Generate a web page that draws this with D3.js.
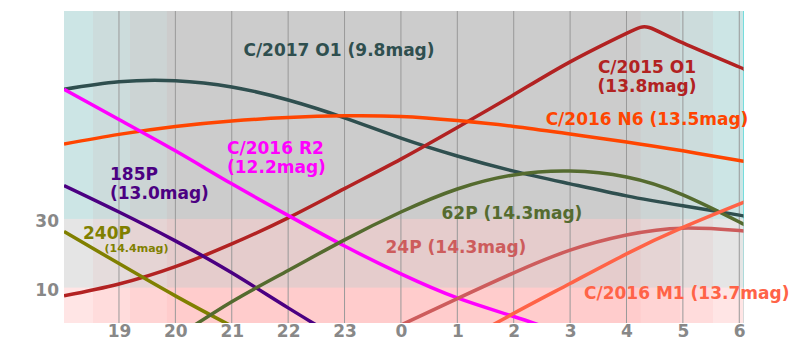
<!DOCTYPE html>
<html>
<head>
<meta charset="utf-8">
<script src="https://cdn.jsdelivr.net/npm/d3@7"></script>
<style>
  body { margin: 0; background: #fff; }
  svg text { font-family: "DejaVu Sans", sans-serif; font-weight: bold; }
</style>
</head>
<body>
<script>

  // night of observation, hours after midnight written as 24+
  const nightStart = 18.025, nightEnd = 30.075;
  const altMin = -0.3, altMax = 90.5;
  const hourTicks = [19, 20, 21, 22, 23, 24, 25, 26, 27, 28, 29, 30];
  const altTicks = [10, 30];

  // twilight: civil, nautical, astronomical
  const duskEnds = [18.55, 19.2, 19.85];
  const dawnStarts = [29.53, 28.95, 28.25];
  const altBands = [30, 10];

  // [hour, altitude in degrees]
  const c2017o1 = [[18.025, 67.7], [19, 69.9], [20, 70.2], [21, 68.4], [22, 64.6], [23, 59.4], [24, 53.5],
                   [25, 48.3], [26, 43.9], [27, 40.2], [28, 36.7], [29, 33.8], [30, 31.1], [30.075, 30.8]];
  const c2015o1 = [[18.025, 7.6], [19, 11.05], [20, 16.1], [21, 22.7], [22, 30.3], [23, 38.8], [24, 47.4], [25, 56.6],
                   [26, 66.1], [27, 75.7], [28, 84.0], [28.4, 85.7], [29, 81.2], [30, 74.2], [30.075, 73.6]];
  const c2016n6 = [[18.025, 51.8], [19, 54.6], [20, 56.9], [21, 58.5], [22, 59.5], [23, 60.0], [24, 59.8],
                   [25, 58.6], [26, 56.9], [27, 54.7], [28, 52.4], [29, 49.8], [30, 47.0], [30.075, 46.8]];
  const c2016r2 = [[18.025, 67.7], [19, 58.9], [20, 49.8], [21, 40.2], [22, 31.0], [23, 22.1], [24, 14.0], [25, 7.0],
                   [26, 1.6], [27, -4.0]];
  const p185 = [[18.025, 39.7], [19, 32.0], [20, 23.6], [21, 14.3], [22, 4.1], [23, -5.8]];
  const p240 = [[18.025, 26.3], [19, 17.0], [20, 7.6], [21, -1.2], [22, -9.6]];
  const p62 = [[20, -4.6], [21, 5.9], [22, 15.0], [23, 23.9], [24, 32.0], [25, 38.7], [26, 42.8],
               [27, 43.9], [28, 42.2], [29, 37.0], [30, 29.1], [30.075, 28.5]];
  const p24 = [[23, -8.6], [24, -0.9], [25, 6.8], [26, 14.3], [27, 20.9], [28, 25.3], [29, 27.3],
               [30, 26.6], [30.075, 26.5]];
  const c2016m1 = [[25, -6.6], [26, 2.5], [27, 11.2], [28, 19.8], [29, 27.5], [30, 34.3], [30.075, 34.8]];

  const comets = [
    {name: "C/2017 O1", color: "#2f4f4f", pts: c2017o1},
    {name: "C/2015 O1", color: "#b22222", pts: c2015o1},
    {name: "C/2016 N6", color: "#ff4500", pts: c2016n6},
    {name: "C/2016 R2", color: "#ff00ff", pts: c2016r2},
    {name: "185P", color: "#4b0082", pts: p185},
    {name: "240P", color: "#808000", pts: p240},
    {name: "62P", color: "#556b2f", pts: p62},
    {name: "24P", color: "#cd5c5c", pts: p24},
    {name: "C/2016 M1", color: "#ff6347", pts: c2016m1}
  ];

  // label placement (pixels)
  const labels = [
    {lines: ["C/2017 O1 (9.8mag)"], color: "#2f4f4f", x: 339, y: 56, anchor: "middle"},
    {lines: ["C/2015 O1", "(13.8mag)"], color: "#b22222", x: 647, y: 73, anchor: "middle"},
    {lines: ["C/2016 N6 (13.5mag)"], color: "#ff4500", x: 647, y: 124.5, anchor: "middle"},
    {lines: ["C/2016 R2", "(12.2mag)"], color: "#ff00ff", x: 227, y: 154, anchor: "start"},
    {lines: ["185P", "(13.0mag)"], color: "#4b0082", x: 110, y: 179.5, anchor: "start"},
    {lines: ["62P (14.3mag)"], color: "#556b2f", x: 441.5, y: 218.5, anchor: "start"},
    {lines: ["24P (14.3mag)"], color: "#cd5c5c", x: 385.5, y: 253, anchor: "start"},
    {lines: ["C/2016 M1 (13.7mag)"], color: "#ff6347", x: 584, y: 299, anchor: "start"}
  ];

  const svg = d3.select("body").append("svg")
    .attr("width", 800)
    .attr("height", 353);

  const x = d3.scaleLinear().domain([nightStart, nightEnd]).range([64, 743.5]);
  const y = d3.scaleLinear().domain([altMin, altMax]).range([323, 11]);

  // background: sky above/below 30 and 10 degrees, twilight tints
  const bg = svg.append("g").style("isolation", "isolate");
  bg.append("rect")
    .attr("x", x(nightStart)).attr("y", y(altMax))
    .attr("width", x(nightEnd) - x(nightStart)).attr("height", y(altMin) - y(altMax))
    .attr("fill", "#cccccc");
  const bandFill = ["#e5cccc", "#ffcccc"];
  altBands.forEach((a, i) => {
    bg.append("rect")
      .attr("x", x(nightStart)).attr("y", y(a))
      .attr("width", x(nightEnd) - x(nightStart)).attr("height", y(altMin) - y(a))
      .attr("fill", bandFill[i]);
  });
  const twiFill = ["rgb(0,229,229)", "rgb(0,220,220)", "rgb(0,212,212)"];
  duskEnds.forEach((t, i) => {
    bg.append("rect")
      .attr("x", x(nightStart)).attr("y", y(altMax))
      .attr("width", x(t) - x(nightStart)).attr("height", y(altMin) - y(altMax))
      .attr("fill", twiFill[i]).style("mix-blend-mode", "lighten");
  });
  dawnStarts.forEach((t, i) => {
    bg.append("rect")
      .attr("x", x(t)).attr("y", y(altMax))
      .attr("width", x(nightEnd) - x(t)).attr("height", y(altMin) - y(altMax))
      .attr("fill", twiFill[i]).style("mix-blend-mode", "lighten");
  });

  // hour grid
  svg.append("g").selectAll("line")
    .data(hourTicks)
    .enter().append("line")
      .attr("x1", d => x(d)).attr("x2", d => x(d))
      .attr("y1", y(altMax)).attr("y2", y(altMin))
      .attr("stroke", "#999").attr("stroke-width", 1);

  // axes
  const xAxis = svg.append("g")
    .attr("transform", `translate(0, ${y(altMin)})`)
    .call(d3.axisBottom(x).tickValues(hourTicks).tickFormat(d => d % 24).tickSize(0).tickPadding(2));
  const yAxis = svg.append("g")
    .attr("transform", `translate(${x(nightStart)}, 0)`)
    .call(d3.axisLeft(y).tickValues(altTicks).tickSize(0).tickPadding(5));
  [xAxis, yAxis].forEach(g => {
    g.select(".domain").remove();
    g.selectAll("text")
      .style("font-size", "17px")
      .style("font-family", "DejaVu Sans")
      .style("font-weight", "bold")
      .attr("fill", "#888");
  });
  yAxis.selectAll("text").attr("dy", "0.44em");

  // comet tracks
  svg.append("clipPath").attr("id", "plotclip")
    .append("rect")
      .attr("x", x(nightStart)).attr("y", y(altMax))
      .attr("width", x(nightEnd) - x(nightStart)).attr("height", y(altMin) - y(altMax));

  const line = d3.line()
    .x(d => x(d[0]))
    .y(d => y(d[1]))
    .curve(d3.curveNatural);

  svg.append("g").attr("clip-path", "url(#plotclip)")
    .selectAll("path")
    .data(comets)
    .enter().append("path")
      .attr("d", d => line(d.pts))
      .attr("fill", "none")
      .attr("stroke", d => d.color)
      .attr("stroke-width", 3.5);

  // labels
  labels.forEach(l => {
    const t = svg.append("text")
      .attr("x", l.x).attr("y", l.y)
      .attr("fill", l.color)
      .attr("text-anchor", l.anchor)
      .style("font-size", "17px");
    l.lines.forEach((s, i) => {
      t.append("tspan").attr("x", l.x).attr("dy", i ? 19 : 0).text(s);
    });
  });

  // 240P with small magnitude
  svg.append("text").attr("x", 83).attr("y", 239).attr("fill", "#808000")
    .style("font-size", "17px").text("240P");
  svg.append("text").attr("x", 104.5).attr("y", 252).attr("fill", "#808000")
    .style("font-size", "11px").text("(14.4mag)");

</script>
</body>
</html>
